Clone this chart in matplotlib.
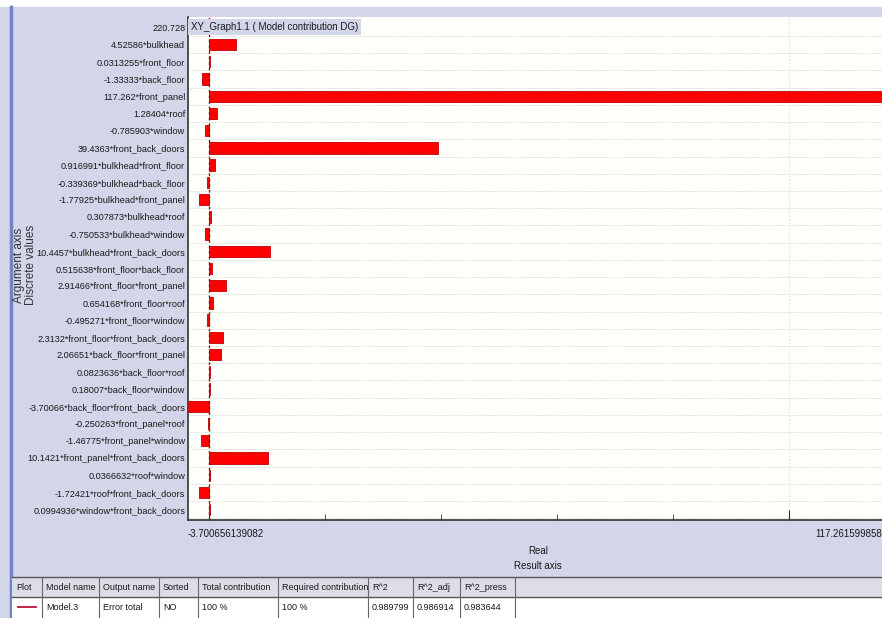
import matplotlib
matplotlib.use('Agg')
import matplotlib.pyplot as plt
from matplotlib.patches import Rectangle
from matplotlib.lines import Line2D

plt.rcParams['font.family'] = ['Liberation Sans', 'DejaVu Sans']

# model data
intercept = 220.728
coefs = [4.52586, 0.0313255, -1.33333, 117.262, 1.28404, -0.785903, 39.4363,
         0.916991, -0.339369, -1.77925, 0.307873, -0.750533, 10.4457,
         0.515638, 2.91466, 0.654168, -0.495271, 2.3132,
         2.06651, 0.0823636, 0.18007, -3.70066,
         -0.250263, -1.46775, 10.1421,
         0.0366632, -1.72421, 0.0994936]
terms = ['bulkhead', 'front_floor', 'back_floor', 'front_panel', 'roof', 'window', 'front_back_doors',
         'bulkhead*front_floor', 'bulkhead*back_floor', 'bulkhead*front_panel', 'bulkhead*roof',
         'bulkhead*window', 'bulkhead*front_back_doors',
         'front_floor*back_floor', 'front_floor*front_panel', 'front_floor*roof',
         'front_floor*window', 'front_floor*front_back_doors',
         'back_floor*front_panel', 'back_floor*roof', 'back_floor*window', 'back_floor*front_back_doors',
         'front_panel*roof', 'front_panel*window', 'front_panel*front_back_doors',
         'roof*window', 'roof*front_back_doors', 'window*front_back_doors']
x_min, x_max = -3.700656139082, 117.261599858781

table_cols = ['Plot', 'Model name', 'Output name', 'Sorted', 'Total contribution',
              'Required contribution', 'R^2', 'R^2_adj', 'R^2_press']
table_row = ['', 'Model.3', 'Error total', 'NO', '100 %', '100 %', '0.989799', '0.986914', '0.983644']
col_edges = [12, 42, 99, 159, 198, 278, 368, 413, 460, 515]

W, H = 882, 618
LAV = '#d3d5e9'
FS = 7.0
FS_Y = 6.6
FS_T = 6.5
TXT = '#1a1a1a'
fig = plt.figure(figsize=(W / 100, H / 100), dpi=100)
fig.patch.set_facecolor('white')

def fx(px):
    return px / W

def fy(py):
    return 1 - py / H

# lavender panel + left border
fig.patches.append(Rectangle((0, 0), 1, fy(7), transform=fig.transFigure, color=LAV, zorder=-5))
fig.lines.append(Line2D([fx(11), fx(11)], [0, fy(7)], transform=fig.transFigure, color='#6d86c2',
                        lw=2.5, zorder=-4))

ax = fig.add_axes([fx(188), fy(520), (889 - 188) / W, (520 - 17) / H])
ax.set_facecolor('#fffffb')

labels = ['%g' % intercept] + ['%g*%s' % (c, t) for c, t in zip(coefs, terms)]
ypos = list(range(1, len(coefs) + 1))
ax.barh(ypos, coefs, height=0.66, color='#ff0000', edgecolor='#c00000', lw=0.6, zorder=3)
ax.axvline(0, color='#8b1010', ls=(0, (2, 2)), lw=1, zorder=4)
ax.axvline(100, color='#d8d8d8', ls=(0, (1, 2)), lw=0.8, zorder=1)
for k in range(len(labels)):
    ax.axhline(k + 0.5, color='#c8c8c8', ls=(0, (1, 1.5)), lw=0.6, zorder=1)

ax.set_ylim(len(labels) - 0.4, -0.6)
ax.set_yticks(range(len(labels)))
ax.set_yticklabels(labels, fontsize=FS_Y, color=TXT)
ax.tick_params(axis='y', length=0, pad=2)
ax.set_xlim(x_min, x_max)
ax.set_xticks([0, 100])
ax.set_xticks([20, 40, 60, 80], minor=True)
ax.set_xticklabels([])
ax.tick_params(axis='x', which='major', direction='in', length=7, color='#333333')
ax.tick_params(axis='x', which='minor', direction='in', length=4, color='#333333')
for s in ['top', 'right']:
    ax.spines[s].set_visible(False)
for s in ['left', 'bottom']:
    ax.spines[s].set_color('#333333')
    ax.spines[s].set_linewidth(1.2)

ax.text(0.004, 1 - (27 - 17) / (520 - 17), 'XY_Graph1.1 ( Model contribution DG)', transform=ax.transAxes,
        ha='left', va='center', fontsize=FS, color=TXT, zorder=6,
        bbox=dict(boxstyle='square,pad=0.3', fc=LAV, ec='none'))

# x-axis end labels and titles
fig.text(fx(188), fy(534), '-3.700656139082', ha='left', va='center', fontsize=FS, color=TXT)
fig.text(fx(815), fy(534), '117.261599858781', ha='left', va='center', fontsize=FS, color=TXT)
fig.text(fx(538), fy(551), 'Real', ha='center', va='center', fontsize=FS, color=TXT)
fig.text(fx(538), fy(566), 'Result axis', ha='center', va='center', fontsize=FS, color=TXT)
fig.text(fx(25), fy(265), 'Argument axis\nDiscrete values', rotation=90, ha='center', va='center',
         multialignment='center', fontsize=8.5, linespacing=1.0, color='#333333')

# bottom table
fig.patches.append(Rectangle((fx(12), fy(597)), 1 - fx(12), (597 - 577) / H, transform=fig.transFigure,
                             fc='#dcdde6', ec='none', zorder=1))
fig.patches.append(Rectangle((fx(12), 0), 1 - fx(12), (618 - 597) / H, transform=fig.transFigure,
                             fc='white', ec='none', zorder=1))
for yy in [577, 597]:
    fig.lines.append(Line2D([fx(12), 1], [fy(yy), fy(yy)], transform=fig.transFigure,
                            color='#555555', lw=1, zorder=2))
for xx in col_edges[1:]:
    fig.lines.append(Line2D([fx(xx), fx(xx)], [0, fy(577)], transform=fig.transFigure,
                            color='#666666', lw=0.8, zorder=2))
for i, (h, v) in enumerate(zip(table_cols, table_row)):
    fig.text(fx(col_edges[i] + 4), fy(588), h, ha='left', va='center', fontsize=FS_T, color=TXT)
    if v:
        fig.text(fx(col_edges[i] + 4), fy(608), v, ha='left', va='center', fontsize=FS_T, color=TXT)
fig.lines.append(Line2D([fx(18), fx(36)], [fy(607), fy(607)], transform=fig.transFigure,
                        color='#c01030', lw=1.3, zorder=3))

fig.savefig('out.png', dpi=100)
